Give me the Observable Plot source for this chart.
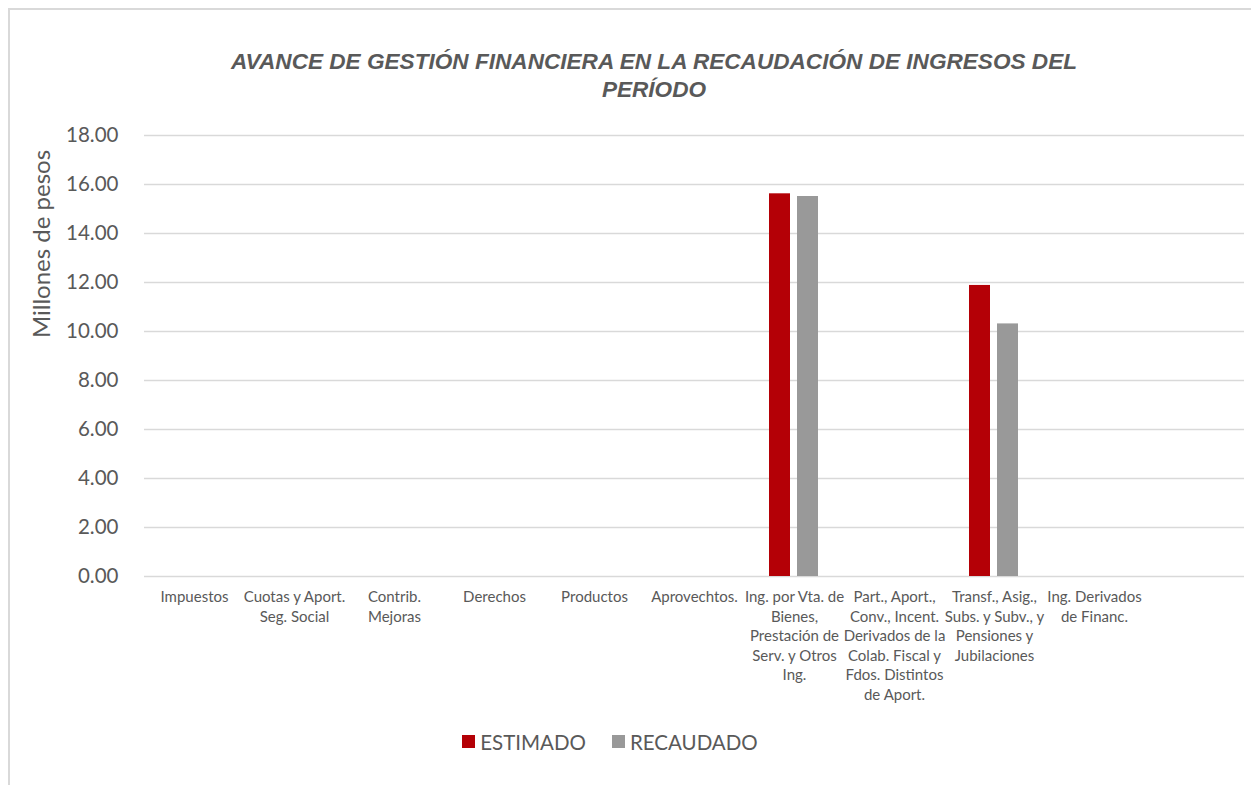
<!DOCTYPE html>
<html>
<head>
<meta charset="utf-8">
<script src="https://cdn.jsdelivr.net/npm/d3@7"></script>
<script src="https://cdn.jsdelivr.net/npm/@observablehq/plot@0.6"></script>
<style>
  html, body { margin: 0; padding: 0; background: #fff; width: 1251px; height: 785px; overflow: hidden; }
  #frame { position: absolute; left: 8px; top: 8px; width: 1270px; height: 800px; border: 2px solid #d9d9d9; box-sizing: border-box; }
  #title { position: absolute; left: 0; width: 1308px; top: 48px; text-align: center; font-family: "Liberation Sans", Arial, sans-serif; font-weight: bold; font-style: italic; font-size: 22.6px; line-height: 28px; color: #595959; }
  #ylabel { position: absolute; left: 40px; top: 244px; transform: translate(-50%, -50%) rotate(-90deg); font-family: Lato, sans-serif; font-size: 24px; color: #595959; white-space: nowrap; }
  #chart { position: absolute; left: 0; top: 120px; }
  #legend { position: absolute; top: 728px; left: 0; width: 1220px; text-align: center; font-family: Lato, sans-serif; font-size: 20.5px; color: #595959; }
  #legend .item { display: inline-flex; align-items: center; margin: 0 13px; }
  #legend .sw { display: inline-block; width: 13px; height: 13px; margin-right: 5px; }
</style>
</head>
<body>
<div id="frame"></div>
<div id="title">AVANCE DE GESTIÓN FINANCIERA EN LA RECAUDACIÓN DE INGRESOS DEL<br>PERÍODO</div>
<div id="ylabel">Millones de pesos</div>
<div id="chart"></div>
<div id="legend"></div>
<script>
const categories = [
  "Impuestos",
  "Cuotas y Aport. Seg. Social",
  "Contrib. Mejoras",
  "Derechos",
  "Productos",
  "Aprovechtos.",
  "Ing. por Vta. de Bienes, Prestación de Serv. y Otros Ing.",
  "Part., Aport., Conv., Incent. Derivados de la Colab. Fiscal y Fdos. Distintos de Aport.",
  "Transf., Asig., Subs. y Subv., y Pensiones y Jubilaciones",
  "Ing. Derivados de Financ.",
  ""
];
const tickLabels = [
  "Impuestos",
  "Cuotas y Aport.\nSeg. Social",
  "Contrib.\nMejoras",
  "Derechos",
  "Productos",
  "Aprovechtos.",
  "Ing. por Vta. de\nBienes,\nPrestación de\nServ. y Otros\nIng.",
  "Part., Aport.,\nConv., Incent.\nDerivados de la\nColab. Fiscal y\nFdos. Distintos\nde Aport.",
  "Transf., Asig.,\nSubs. y Subv., y\nPensiones y\nJubilaciones",
  "Ing. Derivados\nde Financ.",
  ""
];
const series = ["ESTIMADO", "RECAUDADO"];
const estimado  = [0, 0, 0, 0, 0, 0, 15.62, 0, 11.88, 0, 0];
const recaudado = [0, 0, 0, 0, 0, 0, 15.51, 0, 10.31, 0, 0];
const yTicks = [0, 2, 4, 6, 8, 10, 12, 14, 16, 18];
const colors = ["#b40006", "#999999"];

const rows = categories.flatMap((c, i) => [
  {cat: c, serie: series[0], value: estimado[i]},
  {cat: c, serie: series[1], value: recaudado[i]}
]);
const labelOf = new Map(categories.map((c, i) => [c, tickLabels[i]]));

const chart = Plot.plot({
  width: 1251,
  height: 600,
  marginLeft: 140,
  marginRight: 4,
  marginTop: 15,
  marginBottom: 144,
  style: {fontFamily: "Lato, sans-serif", color: "#595959", background: "transparent"},
  fx: {domain: categories, padding: 0, label: null},
  x: {domain: series, paddingInner: 0.24, paddingOuter: 0.855, axis: null},
  y: {domain: [0, 18], label: null},
  color: {domain: series, range: colors},
  marks: [
    Plot.gridY(yTicks, {stroke: "#d9d9d9", strokeOpacity: 1, strokeWidth: 1.5}),
    Plot.barY(rows, {fx: "cat", x: "serie", y: "value", fill: "serie"}),
    Plot.axisY(yTicks, {tickSize: 0, tickPadding: 26, tickFormat: d => d.toFixed(2), fontSize: 20.5, label: null}),
    Plot.axisFx({anchor: "bottom", tickSize: 0, tickPadding: 12, fontSize: 15, lineHeight: 1.3, tickFormat: d => labelOf.get(d), label: null})
  ]
});
document.getElementById("chart").appendChild(chart);

const legend = document.getElementById("legend");
series.forEach((s, i) => {
  const item = document.createElement("span");
  item.className = "item";
  const sw = document.createElement("span");
  sw.className = "sw";
  sw.style.background = colors[i];
  item.appendChild(sw);
  item.appendChild(document.createTextNode(s));
  legend.appendChild(item);
});
</script>
</body>
</html>
